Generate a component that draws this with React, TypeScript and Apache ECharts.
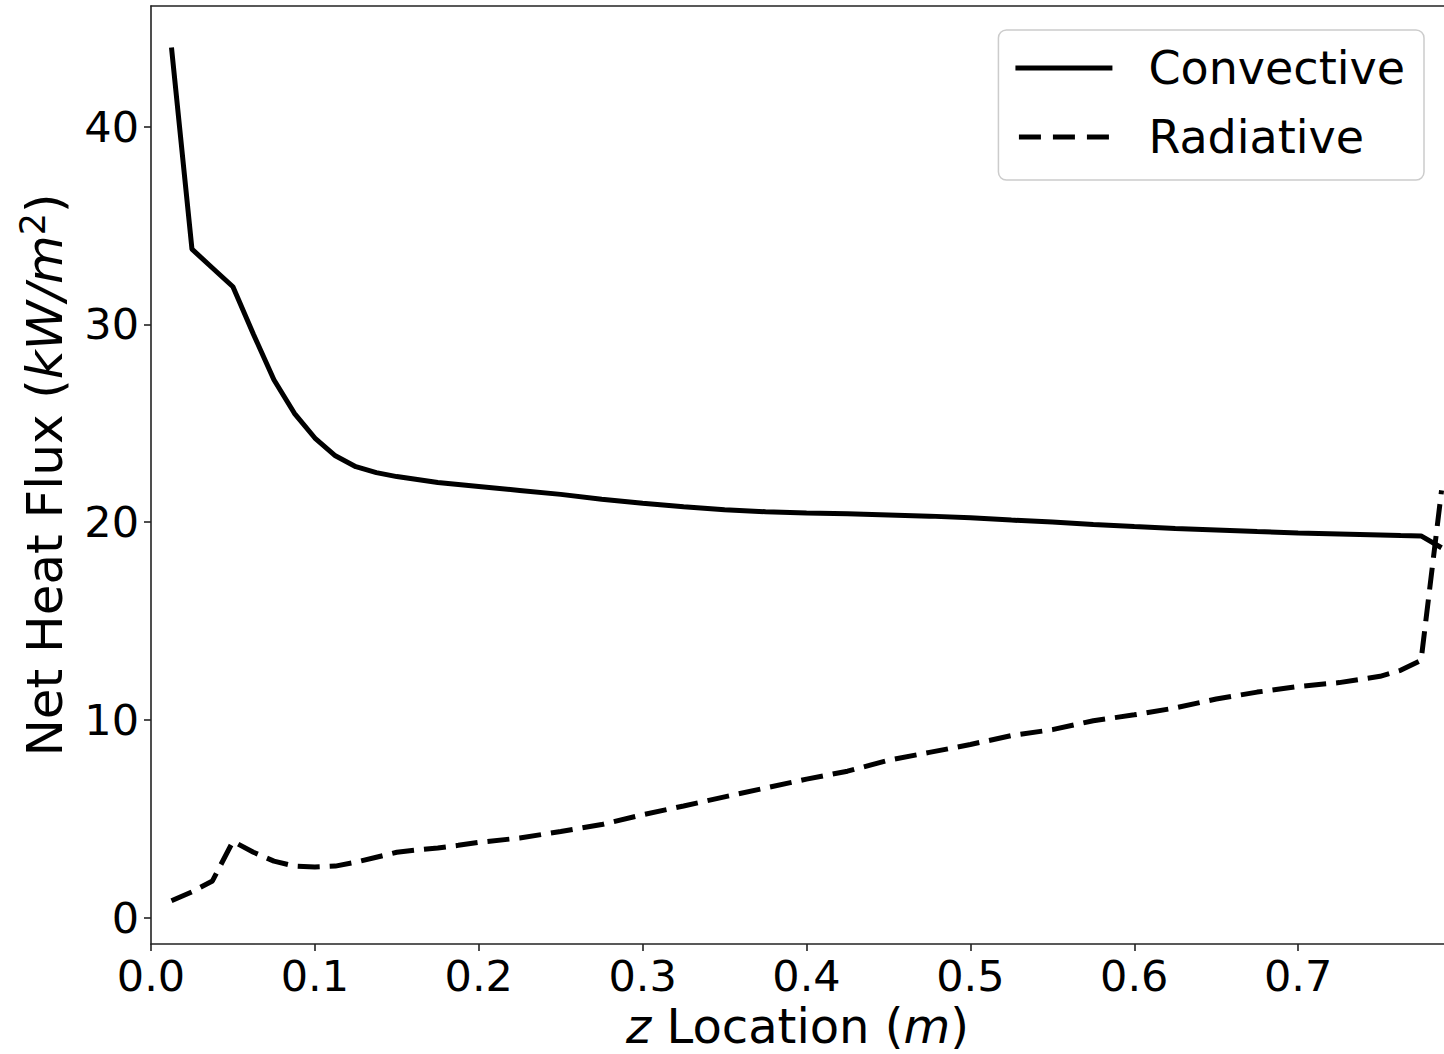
import { useEffect, useRef } from 'react';
import * as echarts from 'echarts';

// Axial position along the wall (m)
const zLocation = [
  0.0125, 0.025, 0.0375, 0.05, 0.0625, 0.075, 0.0875, 0.1, 0.1125, 0.125,
  0.1375, 0.15, 0.1625, 0.175, 0.1875, 0.2, 0.225, 0.25, 0.275, 0.3,
  0.325, 0.35, 0.375, 0.4, 0.425, 0.45, 0.475, 0.5, 0.525, 0.55,
  0.575, 0.6, 0.625, 0.65, 0.675, 0.7, 0.725, 0.75, 0.7625, 0.775, 0.7875,
];

// Net convective heat flux (kW/m^2)
const convective = [
  44.0, 33.8, 32.85, 31.9, 29.5, 27.2, 25.5, 24.25, 23.35, 22.8,
  22.5, 22.3, 22.15, 22.0, 21.9, 21.8, 21.6, 21.4, 21.15, 20.95,
  20.78, 20.62, 20.52, 20.46, 20.42, 20.36, 20.3, 20.22, 20.1, 20.0,
  19.88, 19.77, 19.68, 19.6, 19.52, 19.45, 19.4, 19.35, 19.32, 19.3, 18.7,
];

// Net radiative heat flux (kW/m^2)
const radiative = [
  0.85, 1.3, 1.85, 3.85, 3.3, 2.85, 2.6, 2.55, 2.6, 2.8,
  3.05, 3.3, 3.42, 3.52, 3.65, 3.8, 4.02, 4.35, 4.7, 5.2,
  5.64, 6.1, 6.55, 7.0, 7.4, 7.95, 8.35, 8.75, 9.2, 9.5,
  9.95, 10.25, 10.6, 11.05, 11.4, 11.68, 11.88, 12.2, 12.5, 13.0, 21.6,
];

const xTicks = [0, 0.1, 0.2, 0.3, 0.4, 0.5, 0.6, 0.7];
const yTicks = [0, 10, 20, 30, 40];

const FONT = 'DejaVu Sans';
const AXIS_COLOR = '#222';

// Legend swatches: a solid bar and three dashes
const SOLID_ICON = 'path://M0,0H100V5H0Z';
const DASHED_ICON = 'path://M0,0H22V5H0Z M34,0H56V5H34Z M68,0H90V5H68Z';

export default function App() {
  const ref = useRef<HTMLDivElement>(null);

  useEffect(() => {
    const chart = echarts.init(ref.current!, null, { renderer: 'svg' });
    const axisLine = { show: true, onZero: false, lineStyle: { color: AXIS_COLOR, width: 1.6 } };

    chart.setOption({
      animation: false,
      backgroundColor: '#fff',
      grid: {
        left: 151,
        top: 6,
        right: 0,
        bottom: 110,
        containLabel: false,
        outerBoundsMode: 'none',
      },
      legend: {
        orient: 'vertical',
        right: 20,
        top: 30,
        padding: [13, 19, 18, 17],
        itemWidth: 97,
        itemHeight: 5,
        itemGap: 19,
        backgroundColor: '#fff',
        borderColor: '#cccccc',
        borderWidth: 1.5,
        borderRadius: 8,
        itemStyle: { color: '#000', borderWidth: 0 },
        textStyle: {
          fontSize: 46,
          fontFamily: FONT,
          color: '#000',
          lineHeight: 50,
          padding: [0, 0, 0, 31],
        },
        data: [
          { name: 'Convective', icon: SOLID_ICON },
          { name: 'Radiative', icon: DASHED_ICON },
        ],
      },
      xAxis: [
        {
          type: 'value',
          min: 0,
          max: 0.789,
          axisLine,
          axisTick: {
            show: true,
            inside: false,
            length: 7,
            customValues: xTicks,
            lineStyle: { color: AXIS_COLOR, width: 1.6 },
          },
          axisLabel: {
            customValues: xTicks,
            formatter: (v: number) => v.toFixed(1),
            fontSize: 43,
            fontFamily: FONT,
            color: '#000',
            margin: 10,
          },
          splitLine: { show: false },
          name: '{i|z}{n| Location (}{i|m}{n|)}',
          nameLocation: 'middle',
          nameGap: 60,
          nameTextStyle: {
            fontSize: 48,
            lineHeight: 42,
            fontFamily: FONT,
            color: '#000',
            rich: {
              n: { fontSize: 48, lineHeight: 42, fontFamily: FONT, color: '#000' },
              i: { fontSize: 48, lineHeight: 42, fontFamily: FONT, color: '#000', fontStyle: 'italic' },
            },
          },
        },
        {
          type: 'value',
          position: 'top',
          min: 0,
          max: 0.789,
          axisLine,
          axisTick: { show: false },
          axisLabel: { show: false },
          splitLine: { show: false },
        },
      ],
      yAxis: {
        type: 'value',
        min: -1.34,
        max: 46.1,
        axisLine,
        axisTick: {
          show: true,
          inside: false,
          length: 7,
          customValues: yTicks,
          lineStyle: { color: AXIS_COLOR, width: 1.6 },
        },
        axisLabel: {
          customValues: yTicks,
          formatter: (v: number) => String(v),
          fontSize: 43,
          fontFamily: FONT,
          color: '#000',
          margin: 12,
        },
        splitLine: { show: false },
        name: '{n|Net Heat Flux (}{i|kW/m}{s|2}{n|)}',
        nameLocation: 'middle',
        nameRotate: 90,
        nameGap: 76,
        nameTextStyle: {
          fontSize: 50,
          fontFamily: FONT,
          color: '#000',
          rich: {
            n: { fontSize: 50, lineHeight: 60, fontFamily: FONT, color: '#000' },
            i: { fontSize: 50, lineHeight: 60, fontFamily: FONT, color: '#000', fontStyle: 'italic' },
            s: { fontSize: 35, lineHeight: 36, fontFamily: FONT, color: '#000', verticalAlign: 'top' },
          },
        },
      },
      series: [
        {
          name: 'Convective',
          type: 'line',
          xAxisIndex: 0,
          symbol: 'none',
          data: zLocation.map((z, i) => [z, convective[i]]),
          lineStyle: { color: '#000', width: 5, type: 'solid' },
          itemStyle: { color: '#000' },
        },
        {
          name: 'Radiative',
          type: 'line',
          xAxisIndex: 0,
          symbol: 'none',
          data: zLocation.map((z, i) => [z, radiative[i]]),
          lineStyle: { color: '#000', width: 5, type: [22, 10], cap: 'butt' },
          itemStyle: { color: '#000' },
        },
      ],
    });

    return () => chart.dispose();
  }, []);

  return (
    <div
      ref={ref}
      style={{ position: 'fixed', left: 0, top: 0, width: 1444, height: 1054, background: '#fff' }}
    />
  );
}
